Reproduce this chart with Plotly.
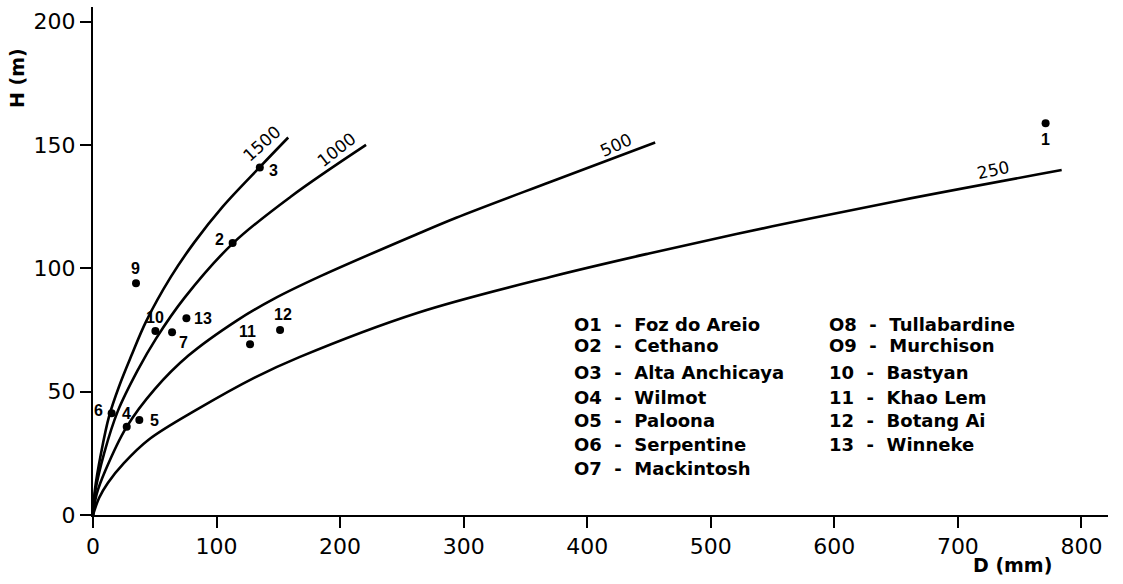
import plotly.graph_objects as go

# ---- data -------------------------------------------------------------
# Dams: crest settlement D (mm) and height H (m)
dam_ids = ["1", "2", "3", "4", "5", "6", "7", "9", "10", "11", "12", "13"]
dam_D = [771, 113, 135, 27.3, 37.5, 15.1, 64, 34.8, 50.5, 127.1, 151.4, 75.6]
dam_H = [158.8, 110.2, 140.8, 35.8, 38.5, 41.2, 74.1, 93.9, 74.6, 69.2, 75.0, 79.7]

# Reference curves (one per modulus value)
curve_1500_D = [0, 1.5, 6.5, 13, 21, 31, 43, 63, 82, 105, 135, 158]
curve_1500_H = [0, 10, 25, 40, 52, 64.5, 78.5, 96.5, 110.5, 125, 141, 153]

curve_1000_D = [0, 2, 9, 20, 36, 51, 74, 113, 160, 221]
curve_1000_H = [0, 10, 25, 42, 58.5, 71.5, 88, 110, 129, 150]

curve_500_D = [0, 3, 10, 27, 50, 77, 117, 146, 185, 263, 294, 370, 455]
curve_500_H = [0, 8.5, 18, 35.5, 51, 64.5, 79, 87.5, 97, 114, 120.5, 135, 151]

curve_250_D = [0, 5, 12, 25, 45, 85, 130, 167, 263, 370, 450, 550, 653, 784]
curve_250_H = [0, 7, 13, 21, 30.5, 43, 55.5, 64, 82, 96.5, 106, 117, 127.5, 139.8]

curve_labels = ["1500", "1000", "500", "250"]

legend_left = ["O1 - Foz do Areio", "O2 - Cethano", "O3 - Alta Anchicaya",
               "O4 - Wilmot", "O5 - Paloona", "O6 - Serpentine", "O7 - Mackintosh"]
legend_right = ["O8 - Tullabardine", "O9 - Murchison", "10 - Bastyan",
                "11 - Khao Lem", "12 - Botang Ai", "13 - Winneke"]

x_ticks = [0, 100, 200, 300, 400, 500, 600, 700, 800]
y_ticks = [0, 50, 100, 150, 200]

# ---- layout geometry --------------------------------------------------
W, H = 1123, 584
PL, PT, PW, PH = 93, 7, 1015, 508
NBSP = "\u00a0"


def px_x(px):
    return (px - PL) / PW


def px_y(py):
    return (PT + PH - py) / PH


def spaced(entry):
    # widen the gaps around the dash in the name list
    num, name = entry.split(" - ", 1)
    return f"<b>{num}{NBSP * 2}-{NBSP * 2}{name}</b>"


fig = go.Figure()

curves = [
    (curve_1500_D, curve_1500_H),
    (curve_1000_D, curve_1000_H),
    (curve_500_D, curve_500_H),
    (curve_250_D, curve_250_H),
]
for cx, cy in curves:
    fig.add_trace(go.Scatter(
        x=cx, y=cy, mode="lines",
        line=dict(color="black", width=2.6, shape="spline", smoothing=1.0),
        hoverinfo="skip", showlegend=False,
    ))

fig.add_trace(go.Scatter(
    x=dam_D, y=dam_H, mode="markers",
    marker=dict(color="black", size=8),
    text=dam_ids, showlegend=False,
))

annotations = []

# point labels, offset in screen pixels from each dot
label_shift = {
    "1": (0, -16), "2": (-13, 4), "3": (14, -3), "4": (0, 13), "5": (15, 0),
    "6": (-13, 3), "7": (11, -10), "9": (-1, 15), "10": (0, 13), "11": (-3, 13),
    "12": (3, 15), "13": (17, 0),
}
for lab, dx, dy in zip(dam_ids, dam_D, dam_H):
    sx, sy = label_shift[lab]
    annotations.append(dict(
        x=dx, y=dy, xref="x", yref="y", text=f"<b>{lab}</b>", showarrow=False,
        xshift=sx, yshift=sy,
        font=dict(family="Liberation Sans", size=16, color="black"),
    ))

# curve labels next to the curve ends
curve_label_style = [(-27, -6, -42), (-30, -5, -38), (-39, -3, -25), (-69, 0, -12)]
for (cx, cy), lab, (sx, sy, ang) in zip(curves, curve_labels, curve_label_style):
    annotations.append(dict(
        x=cx[-1], y=cy[-1], xref="x", yref="y", text=lab, showarrow=False,
        xshift=sx, yshift=sy, textangle=ang,
        font=dict(family="DejaVu Sans", size=17, color="black"),
    ))

# name list
row_y = [324, 346, 372, 397, 420, 444, 469]
for i, t in enumerate(legend_left):
    annotations.append(dict(
        x=px_x(572), y=px_y(row_y[i]), xref="paper", yref="paper",
        xanchor="left", yanchor="middle", text=spaced(t), showarrow=False,
        font=dict(family="DejaVu Sans", size=18, color="black"),
    ))
for i, t in enumerate(legend_right):
    annotations.append(dict(
        x=px_x(827), y=px_y(row_y[i]), xref="paper", yref="paper",
        xanchor="left", yanchor="middle", text=spaced(t), showarrow=False,
        font=dict(family="DejaVu Sans", size=18, color="black"),
    ))

# axis titles
annotations.append(dict(
    x=px_x(1012), y=px_y(565), xref="paper", yref="paper", text="<b>D (mm)</b>",
    showarrow=False, xanchor="center", yanchor="middle",
    font=dict(family="DejaVu Sans", size=19, color="black"),
))
annotations.append(dict(
    x=px_x(17), y=px_y(78), xref="paper", yref="paper", text="<b>H (m)</b>",
    showarrow=False, textangle=-90, xanchor="center", yanchor="middle",
    font=dict(family="DejaVu Sans", size=19, color="black"),
))

axis_common = dict(
    showgrid=False, zeroline=False, showline=True, linecolor="black", linewidth=2,
    ticks="outside", ticklen=11, tickwidth=2, tickcolor="black",
    tickfont=dict(family="DejaVu Sans", size=22, color="black"),
)

fig.update_layout(
    width=W, height=H, autosize=False,
    margin=dict(l=PL, r=W - PL - PW, t=PT, b=H - PT - PH),
    paper_bgcolor="white", plot_bgcolor="white",
    xaxis=dict(range=[0, 821.5], tickvals=x_ticks, **axis_common),
    yaxis=dict(range=[0, 205.9], tickvals=y_ticks, **axis_common),
    annotations=annotations,
    showlegend=False,
)

fig.write_html("out.html")
